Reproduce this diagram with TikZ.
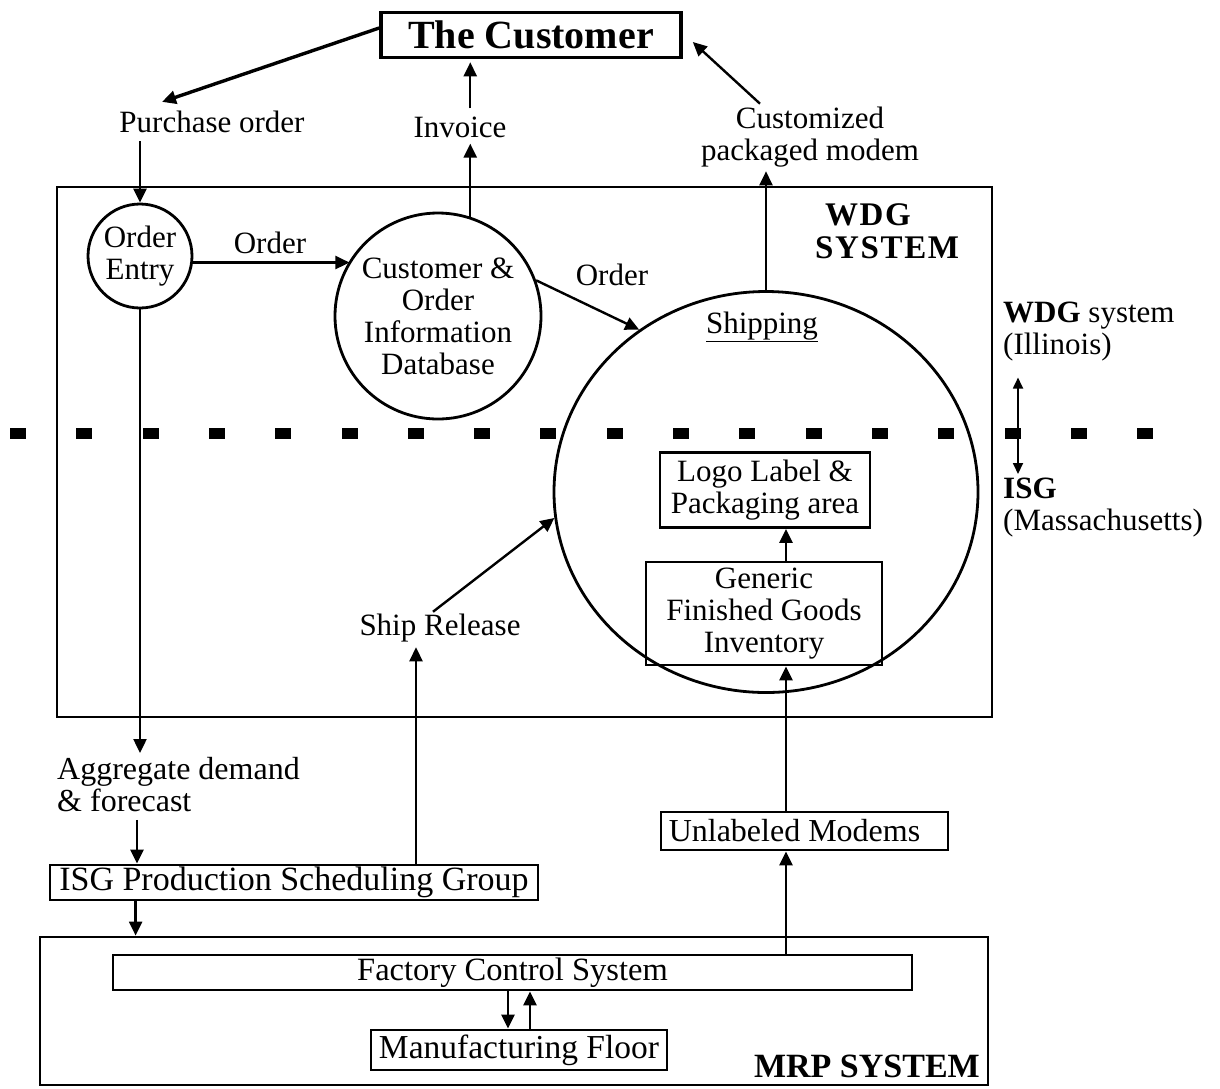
\documentclass[tikz,border=0pt]{standalone}
\usepackage{fontspec}
\setmainfont{Liberation Serif}
\usetikzlibrary{arrows.meta,shapes.geometric,calc}
\begin{document}
\begin{tikzpicture}[x=1pt,y=-1pt,
  txt/.style={font=\fontsize{31}{32}\selectfont, align=center, inner sep=0pt},
  bigtxt/.style={font=\fontsize{33}{33}\selectfont},
  bold/.style={font=\bfseries\fontsize{33}{33}\selectfont, inner sep=0pt},
  box/.style={draw, line width=2.8pt, inner sep=0pt, font=\fontsize{31}{32}\selectfont, align=center},
  circ/.style={draw, circle, line width=2.8pt, inner sep=0pt, font=\fontsize{31}{32}\selectfont, align=center},
  arr/.style={line width=2.4pt, -{Triangle[length=14pt,width=13pt]}},
  darr/.style={line width=1.8pt, {Triangle[length=11pt,width=10pt]}-{Triangle[length=11pt,width=10pt]}}
]
\useasboundingbox (0,0) rectangle (1220,1088);

% containers
\node[box, minimum width=935pt, minimum height=530pt] (wdg) at (524.5,452) {};
\node[box, minimum width=948pt, minimum height=148pt] (mrp) at (514,1011) {};

% customer
\node[draw, line width=3.6pt, minimum width=300pt, minimum height=45pt, inner sep=0pt,
  font=\bfseries\fontsize{40}{40}\selectfont] (cust) at (531,35) {The Customer};

\node[txt] (po) at (212,122) {Purchase order};
\node[txt] (inv) at (460,127) {Invoice};
\node[txt] (cpm) at (810,137) {Customized\\packaged modem};

% WDG system
\node[bold, align=left, anchor=north west] (wdgl) at (815,203) {\addfontfeature{LetterSpace=5}\ WDG\\\addfontfeature{LetterSpace=5}SYSTEM};
\node[circ, minimum size=104pt] (oe) at (140,256) {Order\\Entry};
\node[circ, minimum size=206pt] (db) at (438,316) {Customer \&\\Order\\Information\\Database};
\node[draw, ellipse, line width=2.8pt, minimum width=424pt, minimum height=401pt, inner sep=0pt] (ship) at (766,492) {};
\node[txt] (shl) at (762,327) {\underline{Shipping}};
\node[box, minimum width=210pt, minimum height=75pt] (logo) at (765,490) {Logo Label \&\\Packaging area};
\node[box, minimum width=236pt, minimum height=103pt] (gen) at (764,613.5) {Generic\\Finished Goods\\Inventory};
\node[txt] (o1) at (270,243) {Order};
\node[txt] (o2) at (612,275) {Order};
\node[txt] (sr) at (440,628) {Ship Release};

% right side labels
\node[txt, align=left, anchor=north west] (wl) at (1003,302) {\textbf{WDG} system\\(Illinois)};
\node[txt, align=left, anchor=north west] (il) at (1003,478) {\textbf{ISG}\\(Massachusetts)};

% lower part
\node[txt, font=\fontsize{32}{32}\selectfont, align=left, anchor=north west] (ag) at (57,757) {Aggregate demand\\\& forecast};
\node[box, bigtxt, font=\fontsize{34}{34}\selectfont, minimum width=488pt, minimum height=35pt] (psg) at (294,882.5) {ISG Production Scheduling Group};
\node[box, font=\fontsize{32}{32}\selectfont, minimum width=287pt, minimum height=38pt] (um) at (804.5,831) {Unlabeled Modems\hspace{20pt}};
\node[box, font=\fontsize{32.5}{33}\selectfont, minimum width=799pt, minimum height=35pt] (fcs) at (512.5,972.5) {Factory Control System};
\node[box, font=\fontsize{33.5}{34}\selectfont, minimum width=296pt, minimum height=40pt] (mf) at (519,1050) {Manufacturing Floor};
\node[bold, font=\bfseries\fontsize{34}{34}\selectfont, anchor=base east] (mrpl) at (980,1077) {MRP SYSTEM};

% helper coordinates
\coordinate (vx) at (786,0);
\coordinate (sx) at (416,0);
\coordinate (d1) at (508,0);
\coordinate (u1) at (530,0);

% connectors
\draw[arr, line width=3.4pt] ($(cust.west)+(0,-7)$) -- ($(po.north)+(-50,-9)$);
\draw[arr] ($(oe.north |- po.south)+(0,8)$) -- (oe.north);
\draw[arr] ($(db.72 |- inv.north)+(0,-8)$) -- ($(db.72 |- cust.south)+(0,3)$);
\draw[arr] (db.72) -- ($(db.72 |- inv.south)+(0,6)$);
\draw[arr] (ship.north) -- ($(ship.north |- cpm.south)+(0,4)$);
\draw[arr] ($(cpm.north)+(-50,-3)$) -- ($(cust.east)+(10,7)$);
\draw[arr] (oe.-7) -- (db.148.5 |- oe.-7);
\draw[arr] (db.20) -- (ship.128);
\draw[arr] (oe.south) -- ($(oe.south |- ag.north)+(0,-4)$);
\coordinate (a0) at ($(ag.south west)+(80,8)$);
\draw[arr] (a0) -- (a0 |- psg.north);
\coordinate (a1) at ($(psg.south west)+(87,0)$);
\draw[arr] (a1) -- (a1 |- mrp.north);
\draw[arr] (sx |- psg.north) -- ($(sx |- sr.south)+(0,5)$);
\draw[arr] ($(sr.north)+(-7,-2)$) -- (ship.187);
\draw[arr] (vx |- fcs.north) -- (vx |- um.south);
\draw[arr] (vx |- um.north) -- (vx |- gen.south);
\draw[arr] (vx |- gen.north) -- (vx |- logo.south);
\draw[arr] (d1 |- fcs.south) -- (d1 |- mf.north);
\draw[arr] (u1 |- mf.north) -- (u1 |- fcs.south);
\draw[darr] ($(wl.south west)+(15,16)$) -- ($(il.north west)+(15,-4)$);

% boundary line between WDG and ISG
\foreach \k in {0,...,17}
  \fill ({10+66.3*\k},428) rectangle +(16,11);
\end{tikzpicture}
\end{document}
